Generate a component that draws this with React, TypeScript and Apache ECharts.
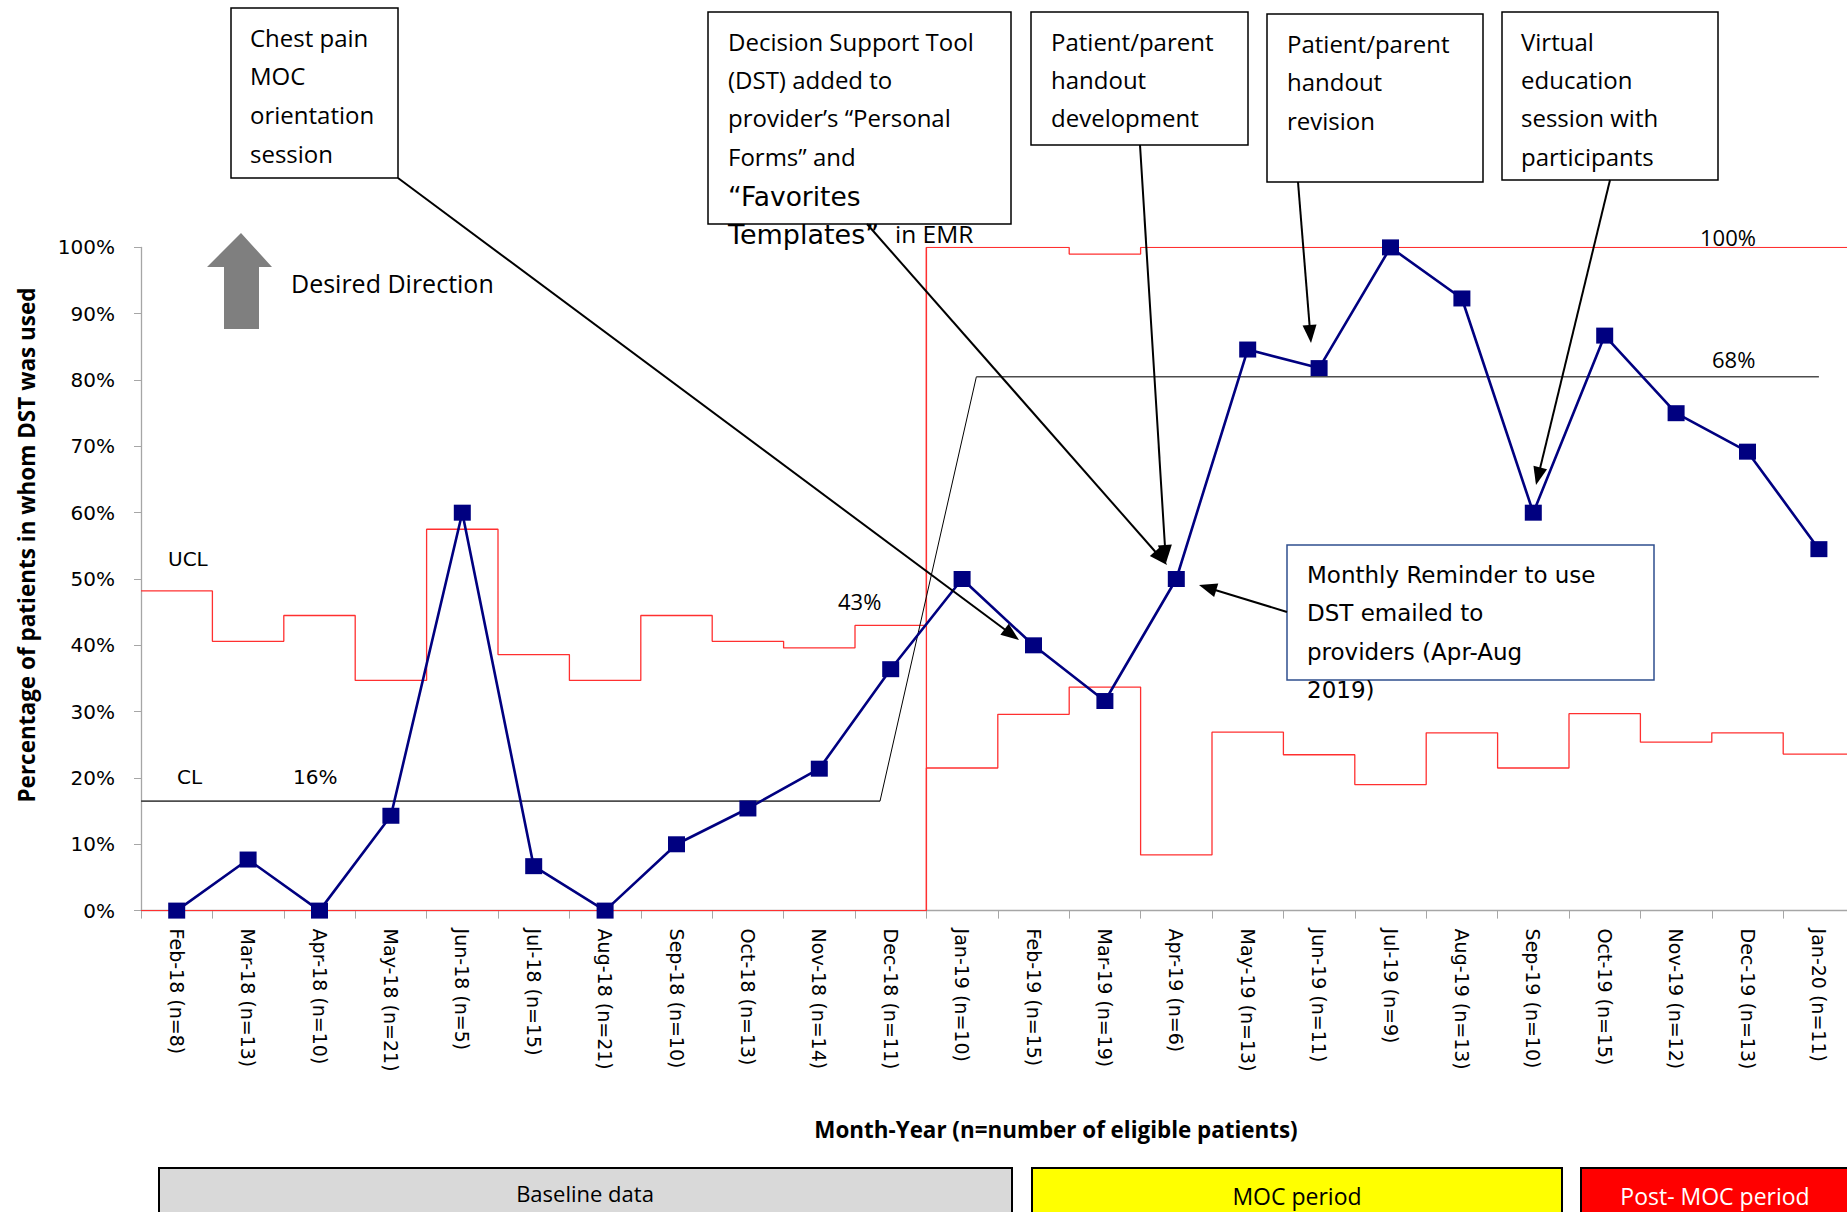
import React, { useEffect, useRef } from "react";
import * as echarts from "echarts";

// ---- data ----
const months = [
  "Feb-18 (n=8)", "Mar-18 (n=13)", "Apr-18 (n=10)", "May-18 (n=21)", "Jun-18 (n=5)",
  "Jul-18 (n=15)", "Aug-18 (n=21)", "Sep-18 (n=10)", "Oct-18 (n=13)", "Nov-18 (n=14)",
  "Dec-18 (n=11)", "Jan-19 (n=10)", "Feb-19 (n=15)", "Mar-19 (n=19)", "Apr-19 (n=6)",
  "May-19 (n=13)", "Jun-19 (n=11)", "Jul-19 (n=9)", "Aug-19 (n=13)", "Sep-19 (n=10)",
  "Oct-19 (n=15)", "Nov-19 (n=12)", "Dec-19 (n=13)", "Jan-20 (n=11)",
];
const pctUsed = [
  0, 7.7, 0, 14.3, 60, 6.7, 0, 10, 15.4, 21.4, 36.4, 50, 40, 31.6, 50, 84.6, 81.8,
  100, 92.3, 60, 86.7, 75, 69.2, 54.5,
];
const ucl = [
  48.2, 40.6, 44.5, 34.7, 57.5, 38.6, 34.7, 44.5, 40.6, 39.6, 43.0, 100, 100, 99.0,
  100, 100, 100, 100, 100, 100, 100, 100, 100, 100,
];
const lcl = [
  0, 0, 0, 0, 0, 0, 0, 0, 0, 0, 0, 21.5, 29.6, 33.7, 8.4, 26.9, 23.5, 19.0, 26.8,
  21.5, 29.7, 25.4, 26.8, 23.6,
];
const baselineCL = 16.5;
const postCL = 80.5;
// CL line breakpoints (position along the 24-band axis)
const clBaseEnd = 10.35;
const clPostStart = 11.7;
const clPostEnd = 23.5;
const phaseBreak = 11;
const yTicks = [0, 10, 20, 30, 40, 50, 60, 70, 80, 90, 100];

const CAL = "'Open Sans', 'Noto Sans', sans-serif";
const CG = "'DejaVu Sans', sans-serif";

function stepData(arr: number[]) {
  const d: number[][] = arr.map((v, i) => [i, v]);
  d.push([arr.length, arr[arr.length - 1]]);
  return d;
}

function arrow(x1: number, y1: number, x2: number, y2: number) {
  const dx = x2 - x1;
  const dy = y2 - y1;
  const L = Math.hypot(dx, dy);
  const ux = dx / L;
  const uy = dy / L;
  const len = 18;
  const hw = 7;
  const bx = x2 - ux * len;
  const by = y2 - uy * len;
  return [
    {
      type: "line",
      z: 100,
      shape: { x1, y1, x2: bx + ux * 2, y2: by + uy * 2 },
      style: { stroke: "#000", lineWidth: 2 },
    },
    {
      type: "polygon",
      z: 100,
      shape: {
        points: [
          [x2, y2],
          [bx - uy * hw, by + ux * hw],
          [bx + uy * hw, by - ux * hw],
        ],
      },
      style: { fill: "#000" },
    },
  ];
}

function box(x: number, y: number, w: number, h: number, stroke = "#000", lw = 1.5) {
  return {
    type: "rect",
    z: 100,
    shape: { x, y, width: w, height: h },
    style: { fill: "#fff", stroke, lineWidth: lw },
  };
}

function lines(x: number, ys: number[], texts: string[], font = CAL, size = 24) {
  return texts.map((t, i) => ({
    type: "text",
    z: 101,
    x,
    y: ys[i],
    style: {
      text: t,
      fill: "#000",
      font: `${size}px ${font}`,
      textAlign: "left",
      textVerticalAlign: "middle",
    },
  }));
}

function label(x: number, y: number, t: string, font: string, size: number, align = "left", extra: any = {}) {
  return {
    type: "text",
    z: 101,
    x,
    y,
    style: {
      text: t,
      fill: "#000",
      font: `${size}px ${font}`,
      textAlign: align,
      textVerticalAlign: "middle",
      ...extra,
    },
  };
}

export default function App() {
  const ref = useRef<HTMLDivElement>(null);

  useEffect(() => {
    if (!ref.current) return;
    const chart = echarts.init(ref.current, undefined, { renderer: "svg" });

    const graphic: any[] = [
      // Desired direction arrow
      {
        type: "polygon",
        z: 100,
        shape: {
          points: [
            [241, 233],
            [272, 267],
            [259, 267],
            [259, 329],
            [224, 329],
            [224, 267],
            [207, 267],
          ],
        },
        style: { fill: "#7f7f7f" },
      },
      label(291, 283, "Desired Direction", CAL, 25),
      // in-plot labels
      label(168, 559, "UCL", CG, 20),
      label(177, 777, "CL", CG, 20),
      label(293, 777, "16%", CG, 20),
      label(838, 601, "43%", CAL, 22),
      label(1700, 237, "100%", CAL, 22),
      label(1712, 359, "68%", CAL, 22),
      // annotation boxes
      box(231, 8, 167, 170),
      ...lines(250, [37, 75, 114, 153], ["Chest pain", "MOC", "orientation", "session"]),
      box(708, 12, 303, 212),
      ...lines(728, [41, 79, 117, 156], [
        "Decision Support Tool",
        "(DST) added to",
        "provider\u2019s \u201cPersonal",
        "Forms\u201d and",
      ]),
      label(728, 196, "\u201cFavorites", CG, 26.5),
      label(728, 234, "Templates\u201d", CG, 27),
      label(895, 233, "in EMR", CAL, 24.5),
      box(1031, 12, 217, 133),
      ...lines(1051, [41, 79, 117], ["Patient/parent", "handout", "development"]),
      box(1267, 14, 216, 168),
      ...lines(1287, [43, 81, 120], ["Patient/parent", "handout", "revision"]),
      box(1502, 12, 216, 168),
      ...lines(1521, [41, 79, 117, 156], ["Virtual", "education", "session with", "participants"]),
      box(1287, 545, 367, 135, "#2f4f8f", 1.5),
      ...lines(1307, [575, 613, 652, 690], [
        "Monthly Reminder to use",
        "DST emailed to",
        "providers (Apr-Aug",
        "2019)",
      ], CG, 23),
      // arrows
      ...arrow(398, 178, 1019, 640),
      ...arrow(867, 224, 1167, 565),
      ...arrow(1140, 145, 1166, 563),
      ...arrow(1298, 182, 1311, 343),
      ...arrow(1610, 180, 1536, 485),
      ...arrow(1287, 612, 1199, 585),
      // axis titles
      {
        type: "text",
        z: 101,
        x: 26,
        y: 545,
        rotation: Math.PI / 2,
        style: {
          text: "Percentage of patients in whom DST was used",
          fill: "#000",
          font: `bold 22.5px ${CAL}`,
          textAlign: "center",
          textVerticalAlign: "middle",
        },
      },
      label(1056, 1129, "Month-Year (n=number of eligible patients)", CAL, 22, "center", {
        font: `bold 22.4px ${CAL}`,
      }),
      // phase boxes
      {
        type: "rect",
        z: 100,
        shape: { x: 159, y: 1168, width: 853, height: 80 },
        style: { fill: "#d9d9d9", stroke: "#000", lineWidth: 2 },
      },
      label(585, 1193, "Baseline data", CAL, 22, "center"),
      {
        type: "rect",
        z: 100,
        shape: { x: 1032, y: 1168, width: 530, height: 80 },
        style: { fill: "#ffff00", stroke: "#000", lineWidth: 2 },
      },
      label(1297, 1196, "MOC period", CAL, 23, "center"),
      {
        type: "rect",
        z: 100,
        shape: { x: 1581, y: 1168, width: 300, height: 80 },
        style: { fill: "#ff0000", stroke: "#000", lineWidth: 2 },
      },
      label(1715, 1196, "Post- MOC period", CAL, 23, "center", { fill: "#fff" }),
    ];

    const redLine = { color: "#ff3030", width: 1.3 };

    chart.setOption({
      animation: false,
      backgroundColor: "#fff",
      grid: { left: 141, top: 247.4, width: 1713.6, height: 663.2, containLabel: false },
      xAxis: [
        {
          type: "category",
          data: months,
          boundaryGap: true,
          axisLine: { show: true, lineStyle: { color: "#a6a6a6", width: 1.3 } },
          axisTick: { show: true, length: 8, lineStyle: { color: "#a6a6a6" } },
          axisLabel: {
            rotate: -90,
            interval: 0,
            margin: 18,
            color: "#000",
            fontFamily: "DejaVu Sans",
            fontSize: 19,
          },
          splitLine: { show: false },
        },
        {
          type: "value",
          min: 0,
          max: 24,
          show: false,
          splitLine: { show: false },
        },
      ],
      yAxis: {
        type: "value",
        min: 0,
        max: 100,
        interval: 10,
        axisLine: { show: true, lineStyle: { color: "#a6a6a6", width: 1.3 } },
        axisTick: { show: true, length: 7, lineStyle: { color: "#a6a6a6" } },
        axisLabel: {
          formatter: (v: number) => (yTicks.includes(v) ? `${v}%` : ""),
          margin: 26,
          color: "#000",
          fontFamily: "DejaVu Sans",
          fontSize: 20,
        },
        splitLine: { show: false },
      },
      series: [
        {
          name: "UCL",
          type: "line",
          xAxisIndex: 1,
          step: "end",
          data: stepData(ucl),
          symbol: "none",
          silent: true,
          lineStyle: redLine,
          z: 3,
        },
        {
          name: "LCL",
          type: "line",
          xAxisIndex: 1,
          step: "end",
          data: stepData(lcl),
          symbol: "none",
          silent: true,
          lineStyle: redLine,
          z: 3,
        },
        {
          name: "Phase",
          type: "line",
          xAxisIndex: 1,
          data: [
            [phaseBreak, 0],
            [phaseBreak, 100],
          ],
          symbol: "none",
          silent: true,
          lineStyle: redLine,
          z: 3,
        },
        {
          name: "CL baseline",
          type: "line",
          xAxisIndex: 1,
          data: [
            [0, baselineCL],
            [clBaseEnd, baselineCL],
          ],
          symbol: "none",
          silent: true,
          lineStyle: { color: "#4d4d4d", width: 1.8 },
          z: 4,
        },
        {
          name: "CL shift",
          type: "line",
          xAxisIndex: 1,
          data: [
            [clBaseEnd, baselineCL],
            [clPostStart, postCL],
          ],
          symbol: "none",
          silent: true,
          lineStyle: { color: "#000", width: 1 },
          z: 4,
        },
        {
          name: "CL post",
          type: "line",
          xAxisIndex: 1,
          data: [
            [clPostStart, postCL],
            [clPostEnd, postCL],
          ],
          symbol: "none",
          silent: true,
          lineStyle: { color: "#4d4d4d", width: 1.6 },
          z: 4,
        },
        {
          name: "% DST used",
          type: "line",
          xAxisIndex: 0,
          data: pctUsed,
          symbol: "rect",
          symbolSize: [17, 16],
          itemStyle: { color: "#000080" },
          lineStyle: { color: "#000080", width: 2.6 },
          z: 10,
        },
      ],
      graphic,
    });

    return () => chart.dispose();
  }, []);

  return (
    <div
      style={{
        position: "absolute",
        left: 0,
        top: 0,
        width: 1847,
        height: 1212,
        overflow: "hidden",
        background: "#fff",
      }}
    >
      <div ref={ref} style={{ width: 1860, height: 1212 }} />
    </div>
  );
}
